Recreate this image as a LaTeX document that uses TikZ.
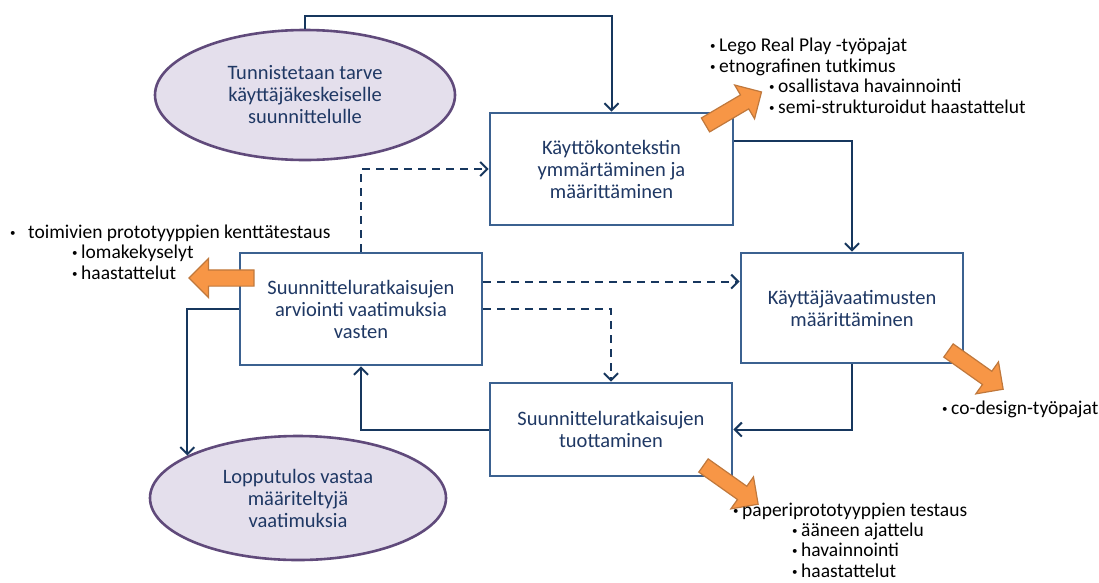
\documentclass[tikz,border=0pt]{standalone}
\usepackage{fontspec}
\setmainfont{Carlito}
\usetikzlibrary{shapes.geometric,shapes.arrows,arrows.meta,calc}
\definecolor{navy}{HTML}{17375E}
\definecolor{boxblue}{HTML}{3B6190}
\definecolor{txtnavy}{HTML}{1F3864}
\definecolor{ellfill}{HTML}{E4DFEC}
\definecolor{ellline}{HTML}{604A7B}
\definecolor{orfill}{HTML}{F79646}
\definecolor{orline}{HTML}{C0783C}
\newcommand\bul[1][9pt]{\makebox[#1][l]{\fontsize{11}{11}\selectfont\raisebox{2pt}{•}}}
\begin{document}
\begin{tikzpicture}[x=1pt,y=-1pt,
  box/.style={draw=boxblue, line width=2.8pt, fill=white, align=center, text=txtnavy,
    font=\fontsize{20.5}{22}\selectfont, inner sep=2pt},
  oval/.style={ellipse, draw=ellline, line width=2.6pt, fill=ellfill, align=center, text=txtnavy,
    font=\fontsize{20.5}{22}\selectfont, inner sep=0pt},
  conn/.style={draw=navy, line width=2pt, -{Straight Barb[length=7pt,width=14pt]}},
  dconn/.style={conn, dash pattern=on 8pt off 6pt},
  blockarrow/.style={single arrow, draw=orline, fill=orfill, line width=1.2pt,
    inner xsep=0pt, inner ysep=7.5pt, single arrow head extend=11.5pt,
    single arrow tip angle=90, minimum height=#1},
  blockarrow/.default=65,
  list/.style={anchor=base west, align=left, inner sep=0pt, text=black,
    font=\fontsize{19.5}{20.6}\selectfont}
]
\useasboundingbox (0,0) rectangle (1099,582);
\fill[white] (0,0) rectangle (1099,582);

% ovals
\node[oval, minimum width=300, minimum height=130] (e1) at (305,95)
  {Tunnistetaan tarve\\käyttäjäkeskeiselle\\suunnittelulle};
\node[oval, minimum width=296, minimum height=124] (e2) at (298,498)
  {Lopputulos vastaa\\määriteltyjä\\vaatimuksia};

% boxes
\node[box, minimum width=243, minimum height=112] (b1) at (611.5,169)
  {Käyttökontekstin\\ymmärtäminen ja\\määrittäminen};
\node[box, minimum width=242, minimum height=112] (b2) at (361,309)
  {Suunnitteluratkaisujen\\arviointi vaatimuksia\\vasten};
\node[box, minimum width=222, minimum height=110] (b3) at (852,308)
  {Käyttäjävaatimusten\\määrittäminen};
\node[box, minimum width=242, minimum height=93] (b4) at (611,429.5)
  {Suunnitteluratkaisujen\\tuottaminen};

% solid connectors
\draw[conn] (e1.north) -- ++(0,-13) -| (b1.north);
\draw[conn] ($(b1.north east)+(0,29)$) -| (b3.north);
\draw[conn] (b3.south) |- (b4.east);
\draw[conn] (b4.west) -| (b2.south);
\draw[conn] (b2.west) -| (e2.159);

% dashed connectors
\coordinate (d2) at ($(b2.north east)+(0,30)$);
\draw[dconn] (b2.north) |- (b1.west);
\draw[dconn] (d2) -- (d2 -| b3.west);
\draw[dconn] (b2.east) -| (b4.north);

% orange block arrows
\node[blockarrow=65, rotate=30.5] (oa) at (730,110.5) {};
\node[blockarrow=65, rotate=180] (ob) at (225.5,278) {};
\node[blockarrow=67, rotate=-35.3] (oc) at (972.5,367.5) {};
\node[blockarrow=67, rotate=-35.3] (od) at (727.5,482.5) {};

% lists (base anchor = baseline of last line)
\node[list] (l1) at (710,113.5)
  {\bul Lego Real Play -työpajat\\
   \bul etnografinen tutkimus\\
   \hspace*{59pt}\bul osallistava havainnointi\\
   \hspace*{59pt}\bul semi-strukturoidut haastattelut};
\node[list] (l2) at (10,279.5)
  {\bul[18pt]toimivien prototyyppien kenttätestaus\\
   \hspace*{62pt}\bul lomakekyselyt\\
   \hspace*{62pt}\bul haastattelut};
\node[list] (l3) at (942,414.5) {\bul co-design-työpajat};
\node[list, font=\fontsize{19.5}{20.2}\selectfont] (l4) at (733,577)
  {\bul paperiprototyyppien testaus\\
   \hspace*{59pt}\bul ääneen ajattelu\\
   \hspace*{59pt}\bul havainnointi\\
   \hspace*{59pt}\bul haastattelut};
\end{tikzpicture}
\end{document}
